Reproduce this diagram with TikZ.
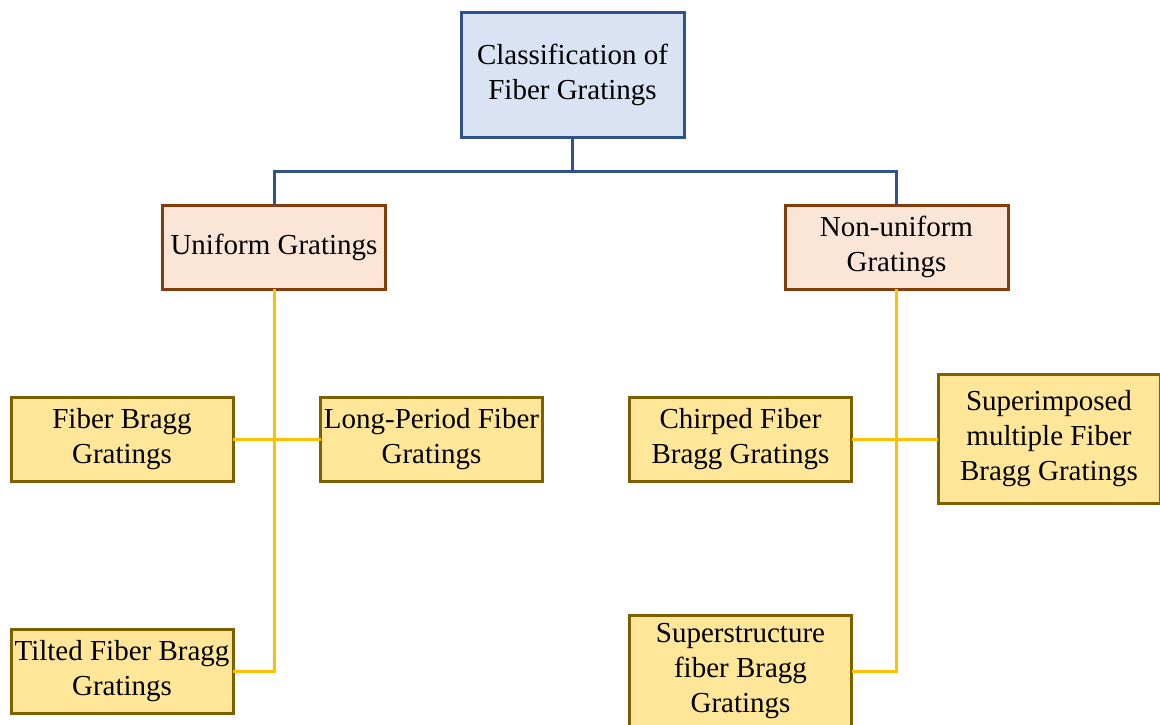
\documentclass[tikz,border=0pt]{standalone}
\usepackage{fontspec}
\setmainfont{Liberation Serif}
\usepackage{tikz}
\definecolor{rootfill}{HTML}{DAE3F3}
\definecolor{rootdraw}{HTML}{2F528F}
\definecolor{midfill}{HTML}{FBE5D6}
\definecolor{middraw}{HTML}{843C0C}
\definecolor{leaffill}{HTML}{FFE699}
\definecolor{leafdraw}{HTML}{7F6000}
\definecolor{leafline}{HTML}{FFC000}
\begin{document}
\begin{tikzpicture}[line cap=rect,line join=miter,x=1pt,y=-1pt,
	box/.style={draw,line width=3pt,align=center,inner sep=0pt,
		font=\fontsize{29}{35}\selectfont},
	rootbox/.style={box,fill=rootfill,draw=rootdraw,minimum width=223pt,minimum height=124pt},
	midbox/.style={box,fill=midfill,draw=middraw,minimum width=223pt,minimum height=84pt},
	leafbox/.style={box,fill=leaffill,draw=leafdraw,minimum width=222pt,minimum height=84pt},
	blueline/.style={draw=rootdraw,line width=3pt},
	yellowline/.style={draw=leafline,line width=3pt}]

	\useasboundingbox (0,0) rectangle (1160,725);

	%yla
	\node[rootbox] (root) at (572.5,75) {Classification of\\Fiber Gratings};

	%toinen taso
	\node[midbox] (uni) at (274,247) {Uniform Gratings};
	\node[midbox] (non) at (896.5,247) {Non-uniform\\Gratings};

	%lehdet vasen
	\node[leafbox] (fbg) at (122,439) {Fiber Bragg\\Gratings};
	\node[leafbox] (lpg) at (431.5,439) {Long-Period Fiber\\Gratings};
	\node[leafbox] (tfbg) at (122,671) {Tilted Fiber Bragg\\Gratings};

	%lehdet oikea
	\node[leafbox] (cfbg) at (740.5,439) {Chirped Fiber\\Bragg Gratings};
	\node[leafbox,minimum height=129pt] (sfbg) at (1049,439) {Superimposed\\multiple Fiber\\Bragg Gratings};
	\node[leafbox,minimum height=112pt] (ssfbg) at (740.5,671) {Superstructure\\fiber Bragg\\Gratings};

	% viivat
	\draw[blueline] (root.south) -- ++(0,33) coordinate (split);
	\draw[blueline] (split) -| (uni.north);
	\draw[blueline] (split) -| (non.north);

	\draw[yellowline] (uni.south) |- (tfbg.east);
	\draw[yellowline] (fbg.east) -- (lpg.west);

	\draw[yellowline] (non.south) |- (ssfbg.east);
	\draw[yellowline] (cfbg.east) -- (sfbg.west);

\end{tikzpicture}
\end{document}
